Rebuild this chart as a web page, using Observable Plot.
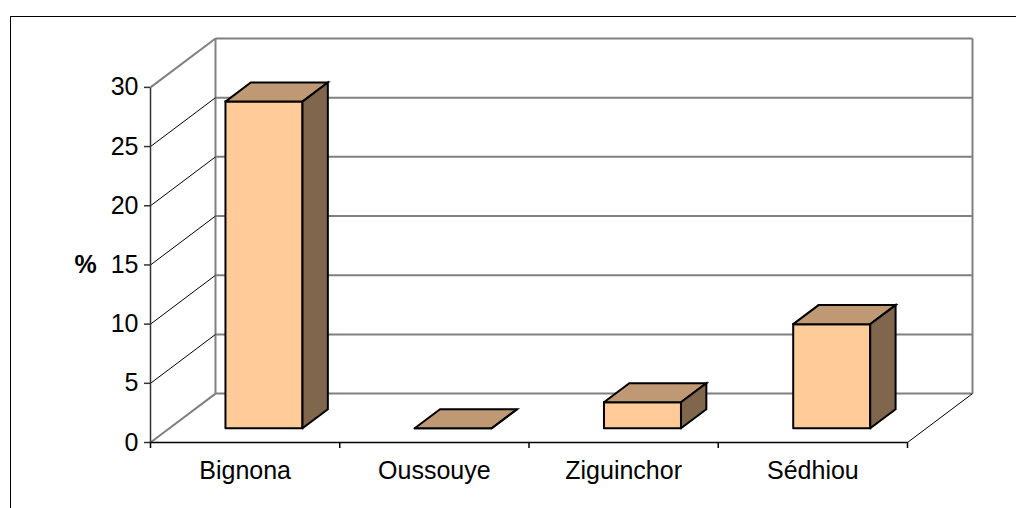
<!DOCTYPE html>
<html>
<head>
<meta charset="utf-8">
<script src="https://cdn.jsdelivr.net/npm/d3@7"></script>
<script src="https://cdn.jsdelivr.net/npm/@observablehq/plot@0.6"></script>
<style>
  html, body { margin: 0; padding: 0; background: #fff; overflow: hidden; }
  #wrap { position: relative; width: 1016px; height: 508px; }
  #frame { position: absolute; left: 10px; top: 16px; width: 1200px; height: 700px;
           border-left: 1.5px solid #000; border-top: 1.5px solid #000; pointer-events: none; }
  #chart { position: absolute; left: 0; top: 0; }
</style>
</head>
<body>
<div id="wrap"><div id="chart"></div><div id="frame"></div></div>
<script>
// ---- data ----
const categories = ["Bignona", "Oussouye", "Ziguinchor", "Sédhiou"];
const values = [27.6, 0, 2.2, 8.8];
const yTicks = [0, 5, 10, 15, 20, 25, 30];
const yLabel = "%";

// ---- 3D projection constants (depth of the plot box in scale units) ----
const n = categories.length;
const yMax = 30;
const DX = 0.3435;   // depth offset in category units
const DY = 4.13;     // depth offset in value units
const barA = 0.2965, barB = 0.7035; // bar extent within category band
const f0 = 0.29, f1 = 0.68;         // bar depth (front / back) as fraction of full depth

const frontFaces = [], topFaces = [], sideFaces = [];
values.forEach((v, i) => {
  const xa0 = i + barA + f0 * DX, xb0 = i + barB + f0 * DX;
  const xa1 = i + barA + f1 * DX, xb1 = i + barB + f1 * DX;
  const y0 = f0 * DY, y1 = f1 * DY;
  const poly = (arr, pts) => { pts.push(pts[0]); pts.forEach(([x, y]) => arr.push({id: i, x, y})); };
  poly(frontFaces, [[xa0, y0], [xb0, y0], [xb0, v + y0], [xa0, v + y0]]);
  poly(topFaces, [[xa0, v + y0], [xb0, v + y0], [xb1, v + y1], [xa1, v + y1]]);
  poly(sideFaces, [[xb0, y0], [xb1, y1], [xb1, v + y1], [xb0, v + y0]]);
});

const innerTicks = yTicks.filter(t => t !== 0 && t !== yMax);
const edgeTicks = [0, yMax];
const gray = "#808080";
const faceStyle = {x: "x", y: "y", z: "id", stroke: "#000", strokeWidth: 2, strokeLinejoin: "miter", strokeMiterlimit: 4, curve: "linear"};

const chart = Plot.plot({
  width: 1016,
  height: 508,
  marginLeft: 150,
  marginRight: 44,
  marginTop: 38,
  marginBottom: 66,
  style: {fontFamily: "'Liberation Sans', Arial, sans-serif", fontSize: "25px", background: "transparent", color: "#000"},
  x: {domain: [0, n + DX], axis: null},
  y: {domain: [0, yMax + DY], axis: null},
  marks: [
    // back wall horizontal gridlines
    Plot.link(yTicks, {x1: DX, x2: n + DX, y1: t => t + DY, y2: t => t + DY, stroke: gray, strokeWidth: 2}),
    // back wall verticals
    Plot.link([DX, n + DX], {x1: d => d, x2: d => d, y1: DY, y2: yMax + DY, stroke: gray, strokeWidth: 2}),
    // side wall diagonals
    Plot.link(innerTicks, {x1: 0, y1: t => t, x2: DX, y2: t => t + DY, stroke: "#000", strokeWidth: 1}),
    Plot.link(edgeTicks, {x1: 0, y1: t => t, x2: DX, y2: t => t + DY, stroke: gray, strokeWidth: 2}),
    // floor right diagonal
    Plot.link([n], {x1: d => d, y1: 0, x2: d => d + DX, y2: DY, stroke: "#000", strokeWidth: 1}),
    // front floor edge
    Plot.link([0], {x1: 0, x2: n, y1: 0, y2: 0, stroke: "#000", strokeWidth: 1.5}),
    // front y axis line
    Plot.link([0], {x1: 0, x2: 0, y1: 0, y2: yMax, stroke: "#333", strokeWidth: 1.5}),
    // axes
    Plot.axisY({ticks: yTicks, tickSize: 6, tickPadding: 6, label: null, stroke: "#333", strokeWidth: 1.5}),
    Plot.axisX({ticks: d3.range(n + 1), tickSize: 6, tickFormat: () => "", label: null, stroke: "#000", strokeWidth: 1.5}),
    // bars
    Plot.line(frontFaces, {...faceStyle, fill: "#FFCC99"}),
    Plot.line(topFaces, {...faceStyle, fill: "#BF9973"}),
    Plot.line(sideFaces, {...faceStyle, fill: "#80664D"}),
    // category labels
    Plot.text(categories, {x: (d, i) => i + 0.5, y: 0, dy: 28, text: d => d, fill: "#000"}),
    // y label
    Plot.text([yLabel], {x: 0, y: 15, dx: -65, text: d => d, fontWeight: "bold", fill: "#000"})
  ]
});
document.getElementById("chart").appendChild(chart);
</script>
</body>
</html>
